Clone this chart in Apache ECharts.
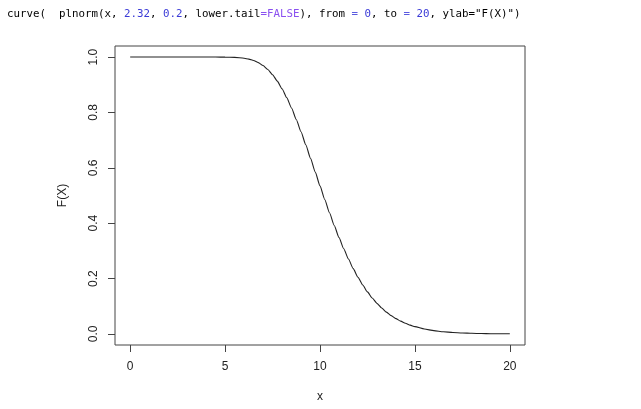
<!DOCTYPE html>
<html>
<head>
<meta charset="utf-8">
<script src="https://cdn.jsdelivr.net/npm/echarts@6/dist/echarts.min.js"></script>
<style>html,body{margin:0;padding:0;background:#fff}#c{width:641px;height:409px}</style>
</head>
<body>
<div id="c"></div>
<script>
// Values (survival curve, x from 0 to 20)
var xValues = [0,0.5,1,1.5,2,2.5,3,3.5,4,4.5,5,5.5,6,6.25,6.5,6.75,7,7.25,7.5,7.75,8,8.25,8.5,8.75,9,9.25,9.5,9.75,10,10.25,10.5,10.75,11,11.25,11.5,11.75,12,12.25,12.5,12.75,13,13.25,13.5,13.75,14,14.25,14.5,14.75,15,15.5,16,16.5,17,17.5,18,18.5,19,19.5,20];
var yValues = [1,1,1,1,1,1,1,1,1,1,0.9998,0.9990,0.9959,0.9926,0.9875,0.9799,0.9693,0.9550,0.9364,0.9133,0.8855,0.8529,0.8159,0.7747,0.7304,0.6833,0.6344,0.5845,0.5347,0.4854,0.4377,0.3918,0.3484,0.3078,0.2704,0.2359,0.2048,0.1768,0.1518,0.1298,0.1104,0.0934,0.0788,0.0662,0.0553,0.0461,0.0383,0.0317,0.0262,0.0177,0.0118,0.0078,0.0051,0.0034,0.0022,0.0014,0.0009,0.0006,0.0004];
var xTicks = [0,5,10,15,20];
var yTicks = [0,0.2,0.4,0.6,0.8,1.0];
var xLabel = 'x';
var yLabel = 'F(X)';

var points = xValues.map(function(x,i){return [x,yValues[i]];});
var chart = echarts.init(document.getElementById('c'), null, {renderer:'canvas'});
var labelFont = {fontFamily:'Liberation Sans, Arial, sans-serif', fontSize:12, color:'#222', fontWeight:'normal'};
var mono = 'DejaVu Sans Mono, monospace';
var fs = 10.8;
chart.setOption({
  animation:false,
  backgroundColor:'#fff',
  title:{
    left:2, top:4,
    text:'{k|curve(  plnorm(x, }{n|2.32}{k|, }{n|0.2}{k|, lower.tail}{f|=FALSE}{k|), from }{e|=}{k| }{n|0}{k|, to }{e|=}{k| }{n|20}{k|, ylab=}{k|"F(X)")}',
    textStyle:{
      fontWeight:'normal',
      rich:{
        k:{fontFamily:mono, fontSize:fs, fontWeight:'normal', color:'#000'},
        n:{fontFamily:mono, fontSize:fs, fontWeight:'normal', color:'#3a3ad6'},
        f:{fontFamily:mono, fontSize:fs, fontWeight:'normal', color:'#8a50f0'},
        e:{fontFamily:mono, fontSize:fs, fontWeight:'normal', color:'#5a5ae0'}
      }
    }
  },
  grid:{left:115, right:116, top:46, bottom:64, outerBoundsMode:'none', containLabel:false, show:true, borderColor:'#444', borderWidth:1, backgroundColor:'transparent'},
  xAxis:{
    type:'value', min:-0.8, max:20.8, position:'bottom',
    name:xLabel, nameLocation:'middle', nameGap:46,
    nameTextStyle:labelFont,
    axisLine:{show:false, onZero:false},
    splitLine:{show:false},
    axisTick:{show:true, length:7, inside:false, customValues:xTicks, lineStyle:{color:'#444', width:1}},
    axisLabel:{show:true, margin:16, customValues:xTicks, fontFamily:labelFont.fontFamily, fontSize:12, color:'#222'}
  },
  yAxis:{
    type:'value', min:-0.04, max:1.04, position:'left',
    name:yLabel, nameLocation:'middle', nameGap:46, nameRotate:90,
    nameTextStyle:labelFont,
    axisLine:{show:false, onZero:false},
    splitLine:{show:false},
    axisTick:{show:true, length:7, inside:false, customValues:yTicks, lineStyle:{color:'#444', width:1}},
    axisLabel:{show:true, rotate:90, margin:15, customValues:yTicks, fontFamily:labelFont.fontFamily, fontSize:12, color:'#222',
      formatter:function(v){return v.toFixed(1);}}
  },
  series:[{
    type:'line', data:points, showSymbol:false, symbol:'none',
    smooth:0.2, smoothMonotone:'x',
    lineStyle:{color:'#222', width:1.1},
    clip:false
  }]
});
</script>
</body>
</html>
